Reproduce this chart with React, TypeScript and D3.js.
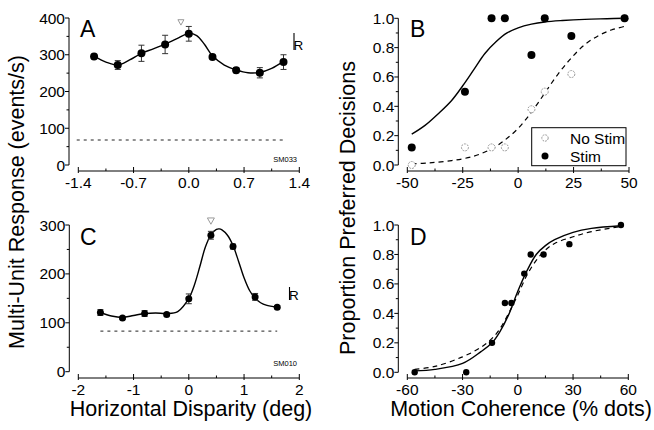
import React from "react";
import * as d3 from "d3";

// ---------- Panel A data ----------
const aX = [-1.2, -0.9, -0.6, -0.3, 0.0, 0.3, 0.6, 0.9, 1.2];
const aY = [295, 272, 304, 328, 357, 294, 258, 251, 280];
const aErr = [6, 12, 22, 25, 20, 5, 7, 14, 20];
const aFitX = [-1.2, -1.05, -0.9, -0.75, -0.6, -0.45, -0.3, -0.15, 0.0, 0.1, 0.2, 0.3, 0.45, 0.6, 0.75, 0.9, 1.05, 1.2];
const aFitY = [296, 280, 272, 286, 304, 316, 329, 344, 358, 352, 328, 297, 272, 259, 251, 252, 263, 282];
const aBaseX = [-1.42, 1.22];
const aBaseY = 68;
const aPref = { x: -0.1, y: 388 };
const aXTicks = [-1.4, -0.7, 0.0, 0.7, 1.4];
const aYTicks = [0, 100, 200, 300, 400];

// ---------- Panel B data ----------
const bX = [-48, -24, -12, -6, 6, 12, 24, 48];
const bStim = [0.12, 0.5, 1.0, 1.0, 0.75, 1.0, 0.88, 1.0];
const bNoStim = [0.0, 0.12, 0.12, 0.12, 0.38, 0.5, 0.62, 1.0];
const bFitStimX = [-48, -42, -36, -30, -25, -20, -15, -10, -5, 0, 6, 12, 20, 30, 40, 48];
const bFitStimY = [0.21, 0.27, 0.35, 0.44, 0.54, 0.65, 0.76, 0.84, 0.9, 0.935, 0.96, 0.975, 0.985, 0.993, 0.997, 1.0];
const bFitNoX = [-48, -40, -30, -20, -12, -6, 0, 6, 12, 18, 24, 30, 36, 42, 48];
const bFitNoY = [0.007, 0.015, 0.03, 0.06, 0.11, 0.17, 0.25, 0.36, 0.49, 0.62, 0.73, 0.82, 0.88, 0.92, 0.945];
const bXTicks = [-50, -25, 0, 25, 50];
const bYTicks = [0, 0.2, 0.4, 0.6, 0.8, 1.0];
const bLegend = ["No Stim", "Stim"];

// ---------- Panel C data ----------
const cX = [-1.6, -1.2, -0.8, -0.4, 0.0, 0.4, 0.8, 1.2, 1.6];
const cY = [121, 110, 119, 117, 149, 279, 256, 153, 132];
const cErr = [6, 3, 6, 3, 10, 8, 5, 7, 3];
const cFitX = [-1.6, -1.4, -1.2, -1.0, -0.8, -0.6, -0.4, -0.2, 0.0, 0.1, 0.2, 0.3, 0.4, 0.5, 0.55, 0.6, 0.7, 0.8, 0.9, 1.0, 1.1, 1.2, 1.3, 1.4, 1.6];
const cFitY = [121, 114, 111, 115, 119, 120, 119, 123, 150, 177, 215, 255, 280, 291, 292, 290, 279, 258, 226, 192, 166, 150, 141, 136, 132];
const cBaseX = [-1.6, 1.6];
const cBaseY = 83;
const cPref = { x: 0.4, y: 308 };
const cXTicks = [-2, -1, 0, 1, 2];
const cYTicks = [0, 100, 200, 300];

// ---------- Panel D data ----------
const dX = [-56, -28, -14, -7, -3.5, 3.5, 7, 14, 28, 56];
const dY = [0.0, 0.0, 0.2, 0.47, 0.47, 0.67, 0.8, 0.8, 0.87, 1.0];
const dFitSolidX = [-56, -45, -30, -20, -14, -10, -5, 0, 5, 10, 15, 20, 30, 40, 56];
const dFitSolidY = [0.01, 0.02, 0.06, 0.14, 0.2, 0.27, 0.39, 0.55, 0.69, 0.8, 0.86, 0.9, 0.95, 0.977, 0.995];
const dFitDashX = [-56, -45, -30, -20, -14, -10, -5, 0, 5, 10, 15, 20, 30, 40, 56];
const dFitDashY = [0.02, 0.04, 0.105, 0.17, 0.23, 0.29, 0.4, 0.525, 0.66, 0.76, 0.83, 0.875, 0.92, 0.955, 0.99];
const dXTicks = [-60, -30, 0, 30, 60];
const dYTicks = [0, 0.2, 0.4, 0.6, 0.8, 1.0];

const FONT = "'Liberation Sans', Arial, Helvetica, sans-serif";
const TICK_FS = 15.5;

type Scale = d3.ScaleLinear<number, number>;

function Axes({
  x, y, xTicks, yTicks, xMinor, yMinor, xAxisY, yAxisX, fmtX, fmtY,
}: {
  x: Scale; y: Scale; xTicks: number[]; yTicks: number[]; xMinor: number[]; yMinor: number[];
  xAxisY: number; yAxisX: number; fmtX: (v: number) => string; fmtY: (v: number) => string;
}) {
  const [x0, x1] = x.range();
  const [y0, y1] = y.range();
  return (
    <g stroke="#000" strokeWidth={1} fill="none">
      {/* x axis */}
      <line x1={x0} x2={x1} y1={xAxisY} y2={xAxisY} />
      {xTicks.map((t, i) => (
        <g key={"xt" + i}>
          <line x1={x(t)} x2={x(t)} y1={xAxisY - 4} y2={xAxisY + 2} />
          <text x={x(t)} y={xAxisY + 17} textAnchor="middle" stroke="none" fill="#000" fontSize={TICK_FS} fontFamily={FONT}>
            {fmtX(t)}
          </text>
        </g>
      ))}
      {xMinor.map((t, i) => (
        <line key={"xm" + i} x1={x(t)} x2={x(t)} y1={xAxisY - 2.5} y2={xAxisY} />
      ))}
      {/* y axis */}
      <line x1={yAxisX} x2={yAxisX} y1={y0} y2={y1} />
      {yTicks.map((t, i) => (
        <g key={"yt" + i}>
          <line x1={yAxisX - 4} x2={yAxisX} y1={y(t)} y2={y(t)} />
          <text x={yAxisX - 4} y={y(t) + 5.5} textAnchor="end" stroke="none" fill="#000" fontSize={TICK_FS} fontFamily={FONT}>
            {fmtY(t)}
          </text>
        </g>
      ))}
      {yMinor.map((t, i) => (
        <line key={"ym" + i} x1={yAxisX - 2.5} x2={yAxisX} y1={y(t)} y2={y(t)} />
      ))}
    </g>
  );
}

function ErrPoints({ x, y, xs, ys, errs, r }: { x: Scale; y: Scale; xs: number[]; ys: number[]; errs: number[]; r: number }) {
  return (
    <g>
      {xs.map((v, i) => (
        <g key={i}>
          <line x1={x(v)} x2={x(v)} y1={y(ys[i] - errs[i])} y2={y(ys[i] + errs[i])} stroke="#333" strokeWidth={1} />
          <line x1={x(v) - 3} x2={x(v) + 3} y1={y(ys[i] - errs[i])} y2={y(ys[i] - errs[i])} stroke="#333" strokeWidth={1} />
          <line x1={x(v) - 3} x2={x(v) + 3} y1={y(ys[i] + errs[i])} y2={y(ys[i] + errs[i])} stroke="#333" strokeWidth={1} />
          <circle cx={x(v)} cy={y(ys[i])} r={r} fill="#000" />
        </g>
      ))}
    </g>
  );
}

function range(a: number, b: number, step: number) {
  const out: number[] = [];
  for (let v = a; v <= b + 1e-9; v += step) out.push(+v.toFixed(6));
  return out;
}

function fitPath(x: Scale, y: Scale, xs: number[], ys: number[]) {
  const line = d3.line<number>().x((_, i) => x(xs[i])).y((d) => y(d)).curve(d3.curveCatmullRom.alpha(0.5));
  return line(ys) || "";
}

function triangle(cx: number, cy: number, w: number) {
  const h = w * 0.9;
  return `M${cx - w / 2},${cy - h / 2}L${cx + w / 2},${cy - h / 2}L${cx},${cy + h / 2}Z`;
}

export default function App() {
  const xA = d3.scaleLinear().domain([-1.4, 1.4]).range([78.3, 299.3]);
  const yA = d3.scaleLinear().domain([0, 400]).range([165, 18]);
  const xB = d3.scaleLinear().domain([-50, 50]).range([407.3, 629]);
  const yB = d3.scaleLinear().domain([0, 1]).range([165, 18.3]);
  const xC = d3.scaleLinear().domain([-2, 2]).range([78.3, 299.3]);
  const yC = d3.scaleLinear().domain([0, 300]).range([371.7, 225]);
  const xD = d3.scaleLinear().domain([-60, 60]).range([407.3, 628.3]);
  const yD = d3.scaleLinear().domain([0, 1]).range([372.3, 225]);

  const f1 = (v: number) => v.toFixed(1);
  const f0 = (v: number) => String(v);

  return (
    <svg width={654} height={430} style={{ position: "absolute", left: 0, top: 0, background: "#fff" }} fontFamily={FONT}>
      <rect x={0} y={0} width={654} height={430} fill="#fff" />

      {/* ===== Panel A ===== */}
      <Axes x={xA} y={yA} xTicks={aXTicks} yTicks={aYTicks} xMinor={range(-1.05, 1.05, 0.7)} yMinor={range(50, 350, 100)}
        xAxisY={171} yAxisX={69} fmtX={f1} fmtY={f0} />
      <line x1={xA(aBaseX[0])} x2={xA(aBaseX[1])} y1={yA(aBaseY)} y2={yA(aBaseY)} stroke="#222" strokeWidth={1} strokeDasharray="3,4" />
      <path d={fitPath(xA, yA, aFitX, aFitY)} fill="none" stroke="#000" strokeWidth={1.4} />
      <ErrPoints x={xA} y={yA} xs={aX} ys={aY} errs={aErr} r={4} />
      <path d={triangle(xA(aPref.x), yA(aPref.y), 6)} fill="none" stroke="#999" strokeWidth={1} />
      <text x={80} y={37} fontSize={23} fill="#000">A</text>
      <line x1={294} x2={294} y1={33} y2={50} stroke="#000" strokeWidth={1.1} />
      <text x={293.5} y={50} fontSize={13.5} fill="#000">R</text>
      <text x={297} y={162} fontSize={7.5} textAnchor="end" fill="#000">SM033</text>

      {/* ===== Panel B ===== */}
      <Axes x={xB} y={yB} xTicks={bXTicks} yTicks={bYTicks} xMinor={range(-37.5, 37.5, 25)} yMinor={range(0.1, 0.9, 0.2)}
        xAxisY={171} yAxisX={398.3} fmtX={f0} fmtY={f1} />
      <path d={fitPath(xB, yB, bFitStimX, bFitStimY)} fill="none" stroke="#000" strokeWidth={1.4} />
      <path d={fitPath(xB, yB, bFitNoX, bFitNoY)} fill="none" stroke="#000" strokeWidth={1.2} strokeDasharray="5,4" />
      {bX.map((v, i) => (
        <circle key={"bn" + i} cx={xB(v)} cy={yB(bNoStim[i])} r={3.5} fill="#fff" stroke="#999" strokeWidth={1} strokeDasharray="2,1" />
      ))}
      {bX.map((v, i) => (
        <circle key={"bs" + i} cx={xB(v)} cy={yB(bStim[i])} r={4} fill="#000" />
      ))}
      <text x={410} y={37} fontSize={23} fill="#000">B</text>
      <rect x={531.7} y={127.7} width={94.3} height={38} fill="#fff" stroke="#000" strokeWidth={1} />
      <circle cx={545} cy={138} r={3.2} fill="#fff" stroke="#999" strokeWidth={1} strokeDasharray="2,1" />
      <text x={570} y={143.5} fontSize={15.5} fill="#000">{bLegend[0]}</text>
      <circle cx={545} cy={156} r={3.5} fill="#000" />
      <text x={570} y={161.5} fontSize={15.5} fill="#000">{bLegend[1]}</text>

      {/* ===== Panel C ===== */}
      <Axes x={xC} y={yC} xTicks={cXTicks} yTicks={cYTicks} xMinor={range(-1.5, 1.5, 1)} yMinor={range(50, 250, 100)}
        xAxisY={378} yAxisX={69.3} fmtX={f0} fmtY={f0} />
      <line x1={xC(cBaseX[0])} x2={xC(cBaseX[1])} y1={yC(cBaseY)} y2={yC(cBaseY)} stroke="#222" strokeWidth={1} strokeDasharray="3,4" />
      <path d={fitPath(xC, yC, cFitX, cFitY)} fill="none" stroke="#000" strokeWidth={1.4} />
      <ErrPoints x={xC} y={yC} xs={cX} ys={cY} errs={cErr} r={3.5} />
      <path d={triangle(xC(cPref.x), yC(cPref.y), 7)} fill="none" stroke="#999" strokeWidth={1} />
      <text x={80} y={245} fontSize={23} fill="#000">C</text>
      <line x1={289.5} x2={289.5} y1={287} y2={300} stroke="#000" strokeWidth={1.1} />
      <text x={289} y={300} fontSize={13.5} fill="#000">R</text>
      <text x={297} y={366} fontSize={7.5} textAnchor="end" fill="#000">SM010</text>

      {/* ===== Panel D ===== */}
      <Axes x={xD} y={yD} xTicks={dXTicks} yTicks={dYTicks} xMinor={range(-45, 45, 30)} yMinor={range(0.1, 0.9, 0.2)}
        xAxisY={378} yAxisX={398.3} fmtX={f0} fmtY={f1} />
      <path d={fitPath(xD, yD, dFitDashX, dFitDashY)} fill="none" stroke="#000" strokeWidth={1.2} strokeDasharray="5,4" />
      <path d={fitPath(xD, yD, dFitSolidX, dFitSolidY)} fill="none" stroke="#000" strokeWidth={1.4} />
      {dX.map((v, i) => (
        <circle key={"d" + i} cx={xD(v)} cy={yD(dY[i])} r={3.2} fill="#000" />
      ))}
      <text x={410} y={245} fontSize={23} fill="#000">D</text>

      {/* ===== Axis titles ===== */}
      <text transform="translate(24,202) rotate(-90)" textAnchor="middle" fontSize={21.5} fill="#000">
        Multi-Unit Response (events/s)
      </text>
      <text transform="translate(355,208) rotate(-90)" textAnchor="middle" fontSize={21.5} fill="#000">
        Proportion Preferred Decisions
      </text>
      <text x={191} y={416} textAnchor="middle" fontSize={21.5} fill="#000">Horizontal Disparity (deg)</text>
      <text x={521} y={416} textAnchor="middle" fontSize={21.5} fill="#000">Motion Coherence (% dots)</text>
    </svg>
  );
}
